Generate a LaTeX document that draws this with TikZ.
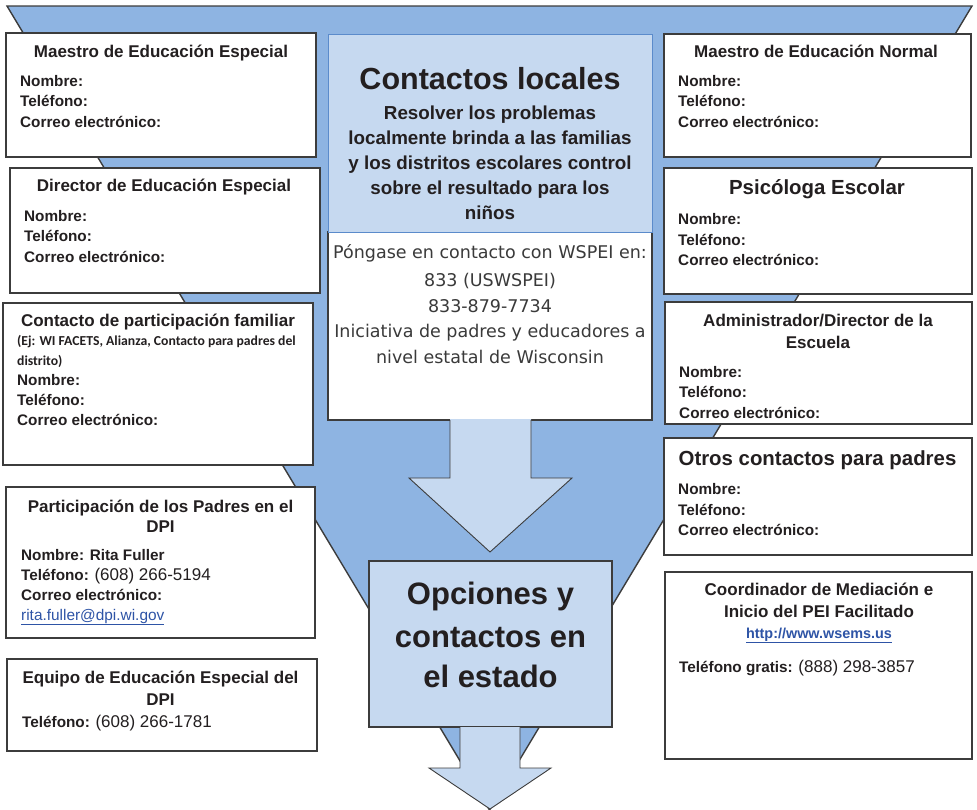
\documentclass[tikz,border=0pt]{standalone}
\usepackage{fontspec}
\setmainfont{Liberation Sans}
\newfontfamily\calibf{Carlito}
\newfontfamily\comicf{DejaVu Sans}
\definecolor{funnelblue}{HTML}{8EB4E2}
\definecolor{lightblue}{HTML}{C6D9F0}
\definecolor{edgeblue}{HTML}{5B8BCB}
\definecolor{boxline}{HTML}{3C3C3C}
\definecolor{ink}{HTML}{231F20}
\definecolor{comicink}{HTML}{3A3A3A}
\definecolor{linkblue}{RGB}{46,84,166}
\newcommand\boxnode[6]{\node[panel, minimum width=#4pt, minimum height=#5pt, #6] (#1) at (#2,#3) {};}
\begin{document}
\begin{tikzpicture}[x=1pt,y=-1pt,
  panel/.style={draw=boxline, line width=1.2pt, fill=white, inner sep=0pt, outer sep=0pt, anchor=north west},
  ttl/.style={font=\fontsize{17}{20}\selectfont\bfseries, text=ink, anchor=base, inner sep=0pt},
  bigttl/.style={font=\fontsize{20.4}{24}\selectfont\bfseries, text=ink, anchor=base, inner sep=0pt},
  fld/.style={font=\fontsize{15.3}{20}\selectfont\bfseries, text=ink, anchor=base west, inner sep=0pt},
  note/.style={font=\calibf\fontsize{13.7}{16}\selectfont\bfseries, text=ink, anchor=base west, inner sep=0pt},
  sub/.style={font=\fontsize{18.8}{25}\selectfont\bfseries, text=ink, anchor=base, inner sep=0pt},
  comic/.style={font=\comicf\fontsize{17.5}{26}\selectfont, text=comicink, anchor=base, inner sep=0pt},
  huge/.style={font=\fontsize{31}{41}\selectfont\bfseries, text=ink, anchor=base, inner sep=0pt},
  blockarrow/.style={draw=boxline, line width=0.9pt, line join=miter},
]
\useasboundingbox (0,0) rectangle (977,809);
% funnel
\begin{scope}
  \clip (0,0) rectangle (977,809);
  \filldraw[fill=funnelblue, draw=boxline, line width=1.4pt, line join=miter] (7,6) -- (972,6) -- (489.5,810) -- cycle;
\end{scope}
% centre panels
\node[panel, minimum width=324pt, minimum height=188pt] (white) at (328,232) {};
\node[panel, draw=edgeblue, line width=1pt, fill=lightblue, minimum width=324pt, minimum height=198pt] (local) at (328,34) {};
\node[huge, font=\fontsize{30.5}{36}\selectfont\bfseries] (cl) at (490,89) {Contactos locales};
\node[sub] (s1) at (490,119) {Resolver los problemas};
\node[sub] (s2) at (490,144) {localmente brinda a las familias};
\node[sub] (s3) at (490,169) {y los distritos escolares control};
\node[sub] (s4) at (490,194) {sobre el resultado para los};
\node[sub] (s5) at (490,219) {niños};
\node[comic] (w1) at (490,258) {Póngase en contacto con WSPEI en:};
\node[comic] (w2) at (490,286) {833 (USWSPEI)};
\node[comic] (w3) at (490,312) {833-879-7734};
\node[comic] (w4) at (490,337) {Iniciativa de padres y educadores a};
\node[comic] (w5) at (490,363) {nivel estatal de Wisconsin};
% middle arrow
\fill[lightblue] (450,419) -- (450,478) -- (409,478) -- (490,552) -- (572,478) -- (531,478) -- (531,419) -- cycle;
\draw[blockarrow] (450,420) -- (450,478) -- (409,478) -- (490,552) -- (572,478) -- (531,478) -- (531,420);
% state options box
\node[panel, fill=lightblue, minimum width=243pt, minimum height=166pt] (state) at (369,561) {};
\node[huge] (o1) at (490.5,604) {Opciones y};
\node[huge] (o2) at (490.5,647) {contactos en};
\node[huge] (o3) at (490.5,687) {el estado};
% bottom arrow
\fill[lightblue] (460,727) -- (460,768) -- (429,768) -- (490,809) -- (551,768) -- (520,768) -- (520,727) -- cycle;
\draw[blockarrow] (460,727) -- (460,768) -- (429,768) -- (490,809) -- (551,768) -- (520,768) -- (520,727);
% left column
\boxnode{L1}{6}{33}{310}{124}{}
\node[ttl] (L1t) at (161,57) {Maestro de Educación Especial};
\node[fld] (L1n) at (20,86) {Nombre:};
\node[fld] (L1p) at (20,106) {Teléfono:};
\node[fld] (L1c) at (20,127) {Correo electrónico:};
\boxnode{L2}{10}{168}{310}{125}{}
\node[ttl] (L2t) at (164,191) {Director de Educación Especial};
\node[fld] (L2n) at (24,221) {Nombre:};
\node[fld] (L2p) at (24,241) {Teléfono:};
\node[fld] (L2c) at (24,262) {Correo electrónico:};
\boxnode{L3}{3}{303}{310}{162}{}
\node[ttl] (L3t) at (158,326) {Contacto de participación familiar};
\node[note] (L3e1) at (17,345) {(Ej: WI FACETS, Alianza, Contacto para padres del};
\node[note] (L3e2) at (17,365) {distrito)};
\node[fld] (L3n) at (17,385) {Nombre:};
\node[fld] (L3p) at (17,405) {Teléfono:};
\node[fld] (L3c) at (17,425) {Correo electrónico:};
\boxnode{L4}{6}{487}{309}{151}{}
\node[ttl] (L4t1) at (160.5,512) {Participación de los Padres en el};
\node[ttl] (L4t2) at (160.5,532) {DPI};
\node[fld] (L4n) at (21,560) {Nombre: Rita Fuller};
\node[fld] (L4p) at (21,580) {Teléfono: {\mdseries\fontsize{17}{20}\selectfont (608) 266-5194}};
\node[fld] (L4c) at (21,600) {Correo electrónico:};
\node[fld, font=\fontsize{15.4}{20}\selectfont, text=linkblue] (L4m) at (21,620) {\underline{rita.fuller@dpi.wi.gov}};
\boxnode{L5}{7}{659}{310}{92}{}
\node[ttl] (L5t1) at (160.5,683) {Equipo de Educación Especial del};
\node[ttl] (L5t2) at (160.5,705) {DPI};
\node[fld] (L5p) at (22,727) {Teléfono: {\mdseries\fontsize{17}{20}\selectfont (608) 266-1781}};
% right column
\boxnode{R1}{664}{34}{307}{123}{}
\node[ttl] (R1t) at (816,57) {Maestro de Educación Normal};
\node[fld] (R1n) at (678,86) {Nombre:};
\node[fld] (R1p) at (678,106) {Teléfono:};
\node[fld] (R1c) at (678,127) {Correo electrónico:};
\boxnode{R2}{664}{168}{308}{126}{}
\node[bigttl] (R2t) at (817,194) {Psicóloga Escolar};
\node[fld] (R2n) at (678,224) {Nombre:};
\node[fld] (R2p) at (678,245) {Teléfono:};
\node[fld] (R2c) at (678,265) {Correo electrónico:};
\boxnode{R3}{665}{302}{307}{122}{}
\node[ttl] (R3t1) at (818,326) {Administrador/Director de la};
\node[ttl] (R3t2) at (818,348) {Escuela};
\node[fld] (R3n) at (679,377) {Nombre:};
\node[fld] (R3p) at (679,397) {Teléfono:};
\node[fld] (R3c) at (679,418) {Correo electrónico:};
\boxnode{R4}{664}{438}{308}{117}{}
\node[bigttl] (R4t) at (817.5,465) {Otros contactos para padres};
\node[fld] (R4n) at (678,494) {Nombre:};
\node[fld] (R4p) at (678,515) {Teléfono:};
\node[fld] (R4c) at (678,535) {Correo electrónico:};
\boxnode{R5}{665}{572}{307}{187}{}
\node[ttl] (R5t1) at (819,595) {Coordinador de Mediación e};
\node[ttl] (R5t2) at (819,617) {Inicio del PEI Facilitado};
\node[ttl, font=\fontsize{14.4}{18}\selectfont\bfseries, text=linkblue] (R5u) at (819,638) {\underline{http://www.wsems.us}};
\node[fld] (R5p) at (679,672) {Teléfono gratis: {\mdseries\fontsize{17}{20}\selectfont (888) 298-3857}};
\end{tikzpicture}
\end{document}
